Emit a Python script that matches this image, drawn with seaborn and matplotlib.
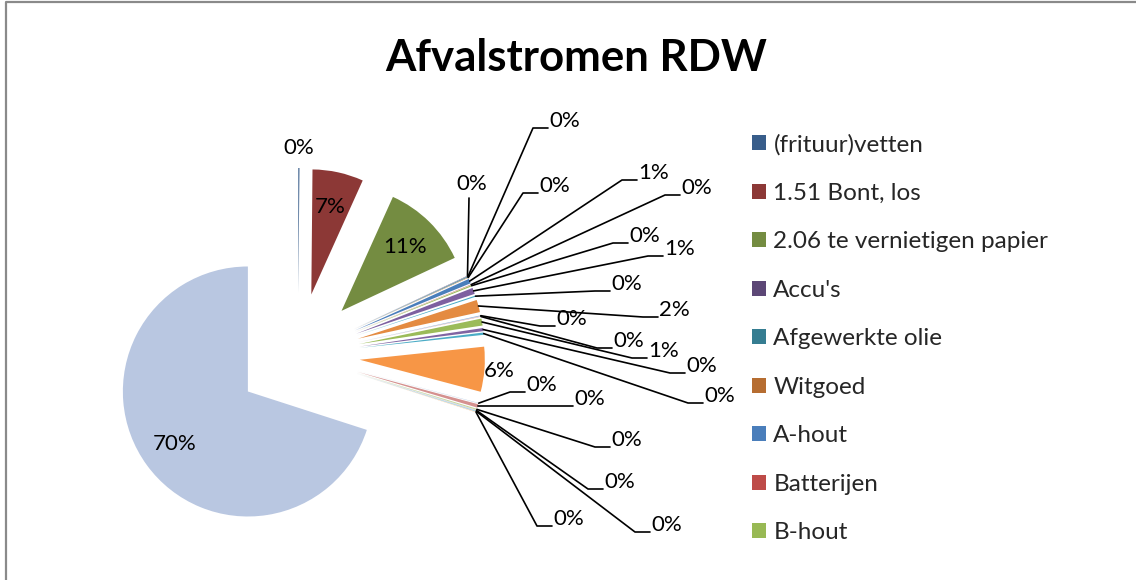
import numpy as np
import matplotlib.pyplot as plt
import seaborn as sns
from matplotlib.patches import Patch

# ---------------- DATA ----------------
# shares in %, clockwise from 12 o'clock; 25 streams, the legend only lists the first 9
legend_names = ["(frituur)vetten", "1.51 Bont, los", "2.06 te vernietigen papier",
                "Accu's", "Afgewerkte olie", "Witgoed", "A-hout", "Batterijen", "B-hout"]

shares = [0.15, 6.6, 11.3,
          0.05, 0.1, 0.05, 0.6, 0.05, 0.15, 0.8, 0.15, 1.6, 0.1, 0.05, 0.9, 0.4, 0.3,
          5.8,
          0.05, 0.45, 0.15, 0.05, 0.1, 0.05,
          70.1]

slice_colors = ["#385D8A", "#8C3836", "#748C41", "#5C4776", "#357D91", "#B66D31",
                "#4A7EBB", "#BE4B48", "#98B954", "#7D60A0", "#46AAC5", "#E48B41",
                "#95B3D7", "#D99694", "#9BBB59", "#8064A2", "#4BACC6", "#F79646",
                "#B9CDE5", "#D4918F", "#C3D69B", "#B3A2C7", "#93CDDD", "#FAC08F",
                "#B9C7E1"]

# ---------------- LAYOUT (pixels) ----------------
pie_center = (298, 355)
pie_radius = 125
explode_px = 62

# labels placed along the bisector (index -> distance in radii)
radial_labels = {0: 1.16, 1: 0.72, 2: 0.72, 17: 1.12, 24: 0.72}
# labels with leader lines (index -> elbow point)
leader_elbows = {
    4: (533, 128), 5: (523, 193), 6: (622, 180), 7: (665, 195), 8: (613, 243),
    9: (648, 256), 10: (595, 291), 11: (643, 317), 12: (540, 326), 13: (597, 348),
    14: (632, 358), 15: (670, 373), 16: (688, 403),
    18: (510, 392), 19: (558, 406), 20: (595, 447), 21: (588, 489), 22: (635, 532),
    23: (537, 526),
}
vertical_leader = {3: (469, 198)}

# ---------------- STYLE ----------------
sns.set_theme(style="white")
plt.rcParams["font.family"] = ["Lato", "DejaVu Sans"]

fig = plt.figure(figsize=(11.36, 5.8), dpi=100)
ax = fig.add_axes([0, 0, 1, 1])

wedges, _ = ax.pie(shares, colors=slice_colors, startangle=-90, counterclock=True,
                   center=pie_center, radius=pie_radius,
                   explode=[explode_px] * len(shares),
                   wedgeprops=dict(linewidth=0))

ax.set_xlim(0, 1136)
ax.set_ylim(580, 0)
ax.set_aspect("equal")
ax.axis("off")

total = sum(shares)
pct_labels = [f"{round(100 * v / total):.0f}%" for v in shares]
label_size = 16

for i, w in enumerate(wedges):
    th = np.deg2rad((w.theta1 + w.theta2) / 2)
    cx, cy = w.center
    ux, uy = np.cos(th), np.sin(th)
    ox, oy = cx + w.r * ux, cy + w.r * uy
    if i in radial_labels:
        d = radial_labels[i] * w.r
        ax.text(cx + d * ux, cy + d * uy, pct_labels[i], ha="center", va="center",
                fontsize=label_size, color="black")
    elif i in vertical_leader:
        ex, ey = vertical_leader[i]
        ax.plot([ox, ex], [oy, ey], color="black", lw=1.2)
        ax.text(ex + 3, ey - 14, pct_labels[i], ha="center", va="center",
                fontsize=label_size, color="black")
    elif i in leader_elbows:
        ex, ey = leader_elbows[i]
        ax.plot([ox, ex, ex + 15], [oy, ey, ey], color="black", lw=1.2)
        ax.text(ex + 16, ey - 7, pct_labels[i], ha="left", va="center",
                fontsize=label_size, color="black")

# ---------------- TITLE ----------------
ax.text(576, 58, "Afvalstromen RDW", ha="center", va="center",
        fontsize=31.5, fontweight="bold", color="black")

# ---------------- LEGEND ----------------
handles = [Patch(facecolor=slice_colors[i], edgecolor="none") for i in range(len(legend_names))]
ax.legend(handles, legend_names, loc="upper left",
          bbox_to_anchor=(752 / 1136, 1 - 134 / 580), frameon=False,
          fontsize=17.5, handlelength=0.58, handleheight=0.58, handletextpad=0.3,
          labelspacing=1.13, borderpad=0, borderaxespad=0)

# ---------------- CHART BORDER ----------------
ax.plot([5.5, 5.5, 1136], [580, 1.5, 1.5], color="#8A8A8A", lw=1.6, clip_on=False)

plt.savefig("out.png", dpi=100)
